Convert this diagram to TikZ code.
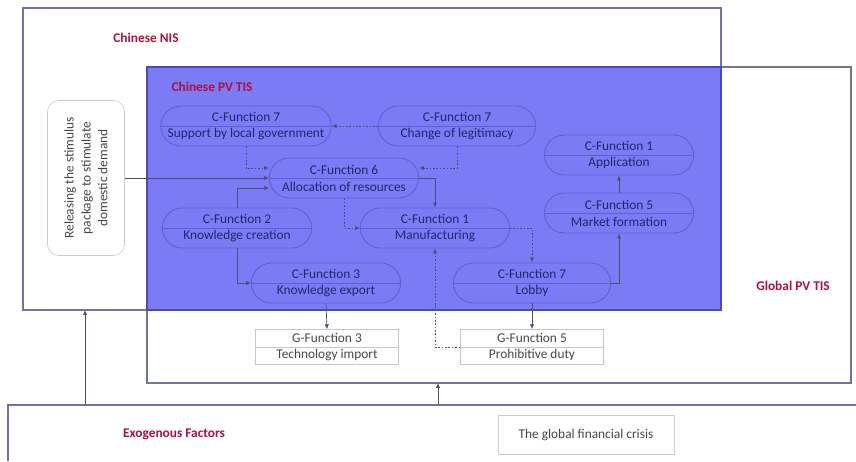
\documentclass[tikz,border=0pt]{standalone}
\usepackage{fontspec}
\setmainfont{Carlito}
\usetikzlibrary{arrows.meta, positioning, shapes.misc, calc}
\definecolor{tisBlue}{HTML}{7B7BF6}
\definecolor{tisEdge}{HTML}{4A4AB4}
\definecolor{sysEdge}{HTML}{7272A6}
\definecolor{funEdge}{HTML}{5F5FCF}
\definecolor{funInk}{HTML}{25256A}
\definecolor{sysRed}{HTML}{B0103C}
\definecolor{linkInk}{HTML}{4E4E70}

\begin{document}
\begin{tikzpicture}[
  x=0.025cm, y=-0.025cm,
  font=\fontsize{9.5}{12}\selectfont,
  ttl/.style={font=\fontsize{9.5}{12}\selectfont\bfseries, text=sysRed, inner sep=0pt},
  sysbox/.style={draw=sysEdge, line width=0.9pt},
  cfun/.style={rounded rectangle, draw=funEdge, line width=0.6pt, text=funInk,
    align=center, inner sep=1pt, minimum width=3.8cm, minimum height=1cm,
    path picture={\draw[funEdge, line width=0.5pt]
      (path picture bounding box.west) -- (path picture bounding box.east);}},
  gfun/.style={rectangle, draw=black!22, fill=white, text=black!72,
    align=center, inner sep=1pt, minimum width=3.575cm, minimum height=0.875cm,
    path picture={\draw[black!22, line width=0.4pt]
      (path picture bounding box.west) -- (path picture bounding box.east);}},
  factbox/.style={rectangle, draw=black!20, fill=white, text=black!72, align=center},
  stimbox/.style={factbox, rounded corners=8pt, minimum width=3.875cm, minimum height=1.925cm},
  flow/.style={draw=linkInk, line width=0.5pt, -{Latex[length=3.5pt, width=3pt]}},
  weak/.style={flow, dash pattern=on 1.2pt off 1.2pt},
]
\useasboundingbox (0,0) rectangle (856,461);

% ============================ the three systems ==============================
% The Chinese PV TIS is where the NIS and the global PV TIS overlap.
\fill[tisBlue] (147,67) rectangle (721,310);
\draw[sysbox] (23,8) rectangle (721,310);
\draw[sysbox] (147,67) rectangle (851,383);
\draw[tisEdge, line width=0.9pt] (147,67) rectangle (721,310);
\draw[sysbox] (856,405) -- (8,405) -- (8,461);

\node[ttl] (nisLbl) at (146,38) {Chinese NIS};
\node[ttl] (tisLbl) at (212,87) {Chinese PV TIS};
\node[ttl] (globLbl) at (793,286) {Global PV TIS};
\node[ttl] (exoLbl) at (174,434) {Exogenous Factors};

% ============================== the functions ================================
\node[stimbox, rotate=90] (stim) at (86,178)
  {Releasing the stimulus\\package to stimulate\\domestic demand};

\node[cfun, minimum width=4.33cm] (support) at (246,126) {C-Function 7\\Support by local government};
\node[cfun, minimum width=4cm] (legit) at (457,126) {C-Function 7\\Change of legitimacy};
\node[cfun] (alloc) at (344,178) {C-Function 6\\Allocation of resources};
\node[cfun] (appl) at (619,155) {C-Function 1\\Application};
\node[cfun] (know) at (237,228) {C-Function 2\\Knowledge creation};
\node[cfun] (manuf) at (435,228) {C-Function 1\\Manufacturing};
\node[cfun] (market) at (619,213) {C-Function 5\\Market formation};
\node[cfun] (export) at (326,283) {C-Function 3\\Knowledge export};
\node[cfun, minimum width=4cm] (lobby) at (532,283) {C-Function 7\\Lobby};

\node[gfun] (techimp) at (327,347) {G-Function 3\\Technology import};
\node[gfun] (duty) at (532,347) {G-Function 5\\Prohibitive duty};

\node[factbox, minimum width=4.4cm, minimum height=0.975cm] (crisis) at (586,435)
  {The global financial crisis};

% ============================== the links ====================================
\draw[weak] (legit.west) -- (support.east);
\draw[weak] (support.south) |- ($(alloc.west)+(0,-10)$);
\draw[weak] (legit.south) |- ($(alloc.east)+(0,-10)$);
\draw[flow] (stim.south) -- (alloc.west);
\draw[flow] (know.north) |- ($(alloc.west)+(0,10)$);
\draw[flow] (know.south) |- (export.west);
\draw[weak] (alloc.south) |- (manuf.west);
\draw[flow] (alloc.east) -| (manuf.north);
\draw[weak] (manuf.east) -| (lobby.north);
\draw[weak] (duty.west) -| (manuf.south);
\draw[flow] (lobby.east) -| (market.south);
\draw[flow] (market.north) -- (appl.south);
\draw[flow] (lobby.south) -- (duty.north);
\draw[flow] (export.south) -- (techimp.north);

% exogenous factors reach both systems from below
\coordinate (exoA) at (85,405);
\coordinate (nisA) at (85,310);
\coordinate (exoB) at (438,405);
\coordinate (globB) at (438,383);
\draw[flow] (exoA) -- (nisA);
\draw[flow] (exoB) -- (globB);
\end{tikzpicture}
\end{document}
